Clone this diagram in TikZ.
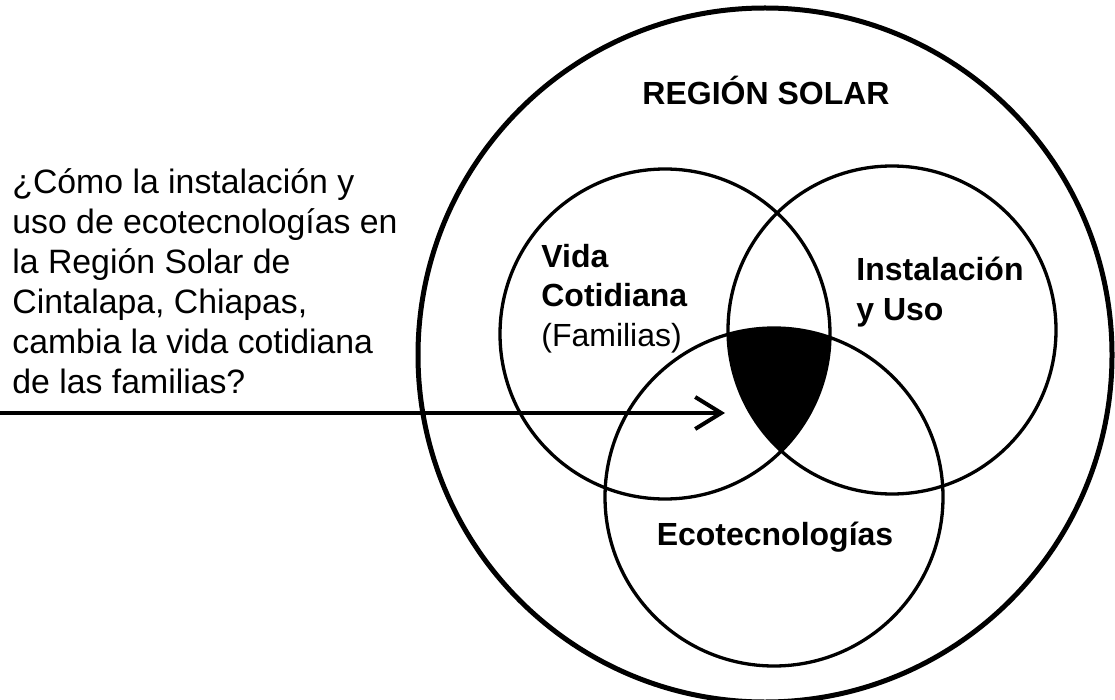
\documentclass[tikz,border=0pt]{standalone}
\usepackage{fontspec}
\setmainfont{Liberation Sans}
\usetikzlibrary{arrows.meta,positioning}
\tikzset{every picture/.style={line width=0.75pt}}

\begin{document}
\begin{tikzpicture}[x=1pt, y=-1pt,
    conjunto/.style={circle, draw, line width=3.3pt, inner sep=0pt},
    etiqueta/.style={font=\fontsize{32}{39.5}\selectfont\bfseries, align=left, inner sep=0pt}]
    \useasboundingbox (0,0) rectangle (1115,700);

    % 绘制区域大圆
    \node[circle, draw, line width=5pt, inner sep=0pt, minimum size=694pt] (region) at (765,355) {};

    % 交集涂黑
    \begin{scope}
        \clip (665,334) circle[radius=165];
        \clip (892,330) circle[radius=164];
        \fill (774,497) circle[radius=169];
    \end{scope}

    % 三个集合
    \node[conjunto, minimum size=330pt] (vida) at (665,334) {};
    \node[conjunto, minimum size=328pt] (uso) at (892,330) {};
    \node[conjunto, minimum size=338pt] (eco) at (774,497) {};

    % 标注
    \node[etiqueta, anchor=base] (titulo) at (766,105) {REGIÓN SOLAR};
    \node[etiqueta, anchor=base west] (vidatxt) at (541,346) {Vida\\Cotidiana\\\mdseries(Familias)};
    \node[etiqueta, anchor=base west] (usotxt) at (856,320) {Instalación\\y Uso};
    \node[etiqueta, anchor=base] (ecotxt) at (775,545) {Ecotecnologías};

    % 问题与箭头
    \node[anchor=base west, font=\fontsize{33.8}{40}\selectfont, align=left, inner sep=0pt] (pregunta) at (12,393)
        {¿Cómo la instalación y\\uso de ecotecnologías en\\la Región Solar de\\Cintalapa, Chiapas,\\cambia la vida cotidiana\\de las familias?};
    \coordinate (inicio) at (0,413);
    \coordinate (punta) at (725,413);
    \draw[line width=4pt, -{Straight Barb[length=26pt, width=32pt]}] (inicio) -- (punta);
\end{tikzpicture}
\end{document}
